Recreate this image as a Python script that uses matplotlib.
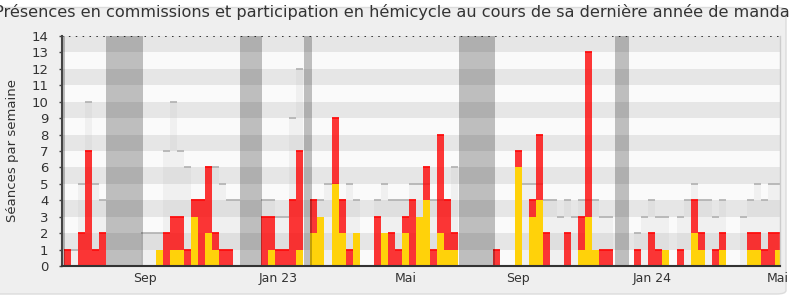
import matplotlib
matplotlib.use('Agg')
import matplotlib.pyplot as plt
from matplotlib.patches import FancyBboxPatch
import numpy as np

# ---------------- data (one value per week) ----------------
total_presence = [1, 0, 2, 7, 1, 2, 0, 0, 0, 0,
                  0, 0, 0, 1, 2, 3, 3, 1, 4, 4,
                  6, 2, 1, 1, 0, 0, 0, 0, 3, 3,
                  1, 1, 4, 7, 0, 4, 3, 0, 9, 4,
                  1, 2, 0, 0, 3, 2, 2, 1, 3, 4,
                  3, 6, 1, 8, 4, 2, 0, 0, 0, 0,
                  0, 1, 0, 0, 7, 0, 4, 8, 2, 0,
                  0, 2, 0, 3, 13, 1, 1, 1, 0, 0,
                  0, 1, 0, 2, 1, 1, 0, 1, 0, 4,
                  2, 0, 1, 2, 0, 0, 0, 2, 2, 1,
                  2, 2]
hemicycle = [0, 0, 0, 0, 0, 0, 0, 0, 0, 0,
             0, 0, 0, 1, 0, 1, 1, 0, 3, 0,
             2, 1, 0, 0, 0, 0, 0, 0, 0, 1,
             0, 0, 0, 1, 0, 2, 3, 0, 5, 2,
             0, 2, 0, 0, 0, 2, 0, 0, 2, 0,
             3, 4, 0, 2, 1, 1, 0, 0, 0, 0,
             0, 0, 0, 0, 6, 0, 3, 4, 0, 0,
             0, 0, 0, 1, 3, 1, 0, 0, 0, 0,
             0, 0, 0, 0, 0, 1, 0, 0, 0, 2,
             1, 0, 0, 1, 0, 0, 0, 1, 1, 0,
             0, 1]
median_deputes = [1, 1, 5, 10, 5, 4, 0, 0, 0, 0,
                  0, 2, 2, 2, 7, 10, 7, 6, 4, 4,
                  6, 6, 5, 4, 4, 0, 0, 0, 4, 4,
                  3, 3, 9, 12, 0, 4, 4, 5, 5, 4,
                  5, 4, 0, 0, 4, 5, 4, 4, 4, 5,
                  5, 5, 4, 4, 4, 6, 0, 0, 0, 0,
                  0, 0, 0, 0, 5, 5, 5, 5, 4, 4,
                  3, 4, 3, 4, 4, 4, 3, 3, 0, 0,
                  0, 2, 3, 4, 3, 3, 0, 3, 4, 5,
                  4, 4, 3, 4, 0, 0, 3, 4, 5, 4,
                  5, 5]
vacations = [(-1.0, 0.1), (6.0, 11.26), (25.0, 28.1), (34.13, 35.18),
             (56.15, 61.2), (78.2, 80.2)]
tick_weeks = [11.5, 30.4, 48.6, 64.5, 83.6, 101.4]
tick_labels = ['Sep', 'Jan 23', 'Mai', 'Sep', 'Jan 24', 'Mai']
title = ("Présences en commissions et participation en hémicycle "
         "au cours de sa dernière année de mandat")

# ---------------- figure ----------------
W, H = 790, 300
fig = plt.figure(figsize=(W / 100, H / 100), dpi=100)
fig.patch.set_facecolor('white')
panel = FancyBboxPatch((-10 / W, 6 / H), (786 + 10) / W, (H - 7.5) / H - 6 / H,
                       boxstyle="round,pad=0,rounding_size=0.012",
                       transform=fig.transFigure, facecolor='#efefef',
                       edgecolor='#dcdcdc', linewidth=1, zorder=-10)
fig.patches.append(panel)

ax = fig.add_axes([61.5 / W, 34 / H, (780 - 61.5) / W, (266 - 36) / H])
ax.set_facecolor('#fafafa')

weeks = np.arange(len(total_presence))
total = np.array(total_presence, dtype=float)
hemi = np.array(hemicycle, dtype=float)
comm = total - hemi
med = np.array(median_deputes, dtype=float)

# background bands
for i in range(14):
    ax.axhspan(i, i + 1, color='#e6e6e6' if i % 2 else '#fafafa', lw=0, zorder=0)

# median of all deputies
ax.bar(weeks, med, width=1, align='edge', color='#c0c0c0', alpha=0.16, lw=0, zorder=1)
m = med > 0
ax.hlines(med[m], weeks[m], weeks[m] + 1, color='#b0b0b0', lw=1.2, zorder=1.5)

# commission presence (red) stacked above hemicycle participation (yellow)
ax.bar(weeks, hemi, width=1, align='edge', color='#ffd20a', lw=0, zorder=2)
ax.bar(weeks, comm, bottom=hemi, width=1, align='edge', color='#ff0000',
       alpha=0.78, lw=0, zorder=2)
c = comm > 0
ax.hlines(total[c], weeks[c], weeks[c] + 1, color='#ff0d0d', lw=1.3, zorder=2.5)

# vacations
for a, b in vacations:
    ax.axvspan(a, b, color='black', alpha=0.24, lw=0, zorder=3)

# dotted top line
ax.axhline(14, color='black', lw=1.1, ls=(0, (1, 3.5)), zorder=4)

ax.set_xlim(-0.355, 101.7)
ax.set_ylim(0, 14)

ax.set_yticks(range(15))
ax.set_yticklabels([str(i) for i in range(15)])
ax.set_xticks(tick_weeks)
ax.set_xticklabels(tick_labels)
ax.tick_params(axis='y', length=2.5, width=1, color='#444444', pad=7,
               labelsize=9.5, labelcolor='#333333')
ax.tick_params(axis='x', length=0, pad=4.5, labelsize=9, labelcolor='#333333')

ax.spines['top'].set_visible(False)
ax.spines['right'].set_color('#cccccc')
ax.spines['right'].set_linewidth(1)
ax.spines['left'].set_color('#444444')
ax.spines['left'].set_linewidth(1.5)
ax.spines['bottom'].set_color('#333333')
ax.spines['bottom'].set_linewidth(1.5)
ax.spines['left'].set_zorder(5)
ax.spines['bottom'].set_zorder(5)

fig.text(0.5, 1 - 17 / H, title, ha='center', va='baseline',
         fontsize=11.6, color='#333333')
fig.text(12.5 / W, 0.5, 'Séances par semaine', rotation=90, ha='center',
         va='center', fontsize=9.5, color='#333333')

fig.savefig('out.png', dpi=100, facecolor=fig.get_facecolor())
